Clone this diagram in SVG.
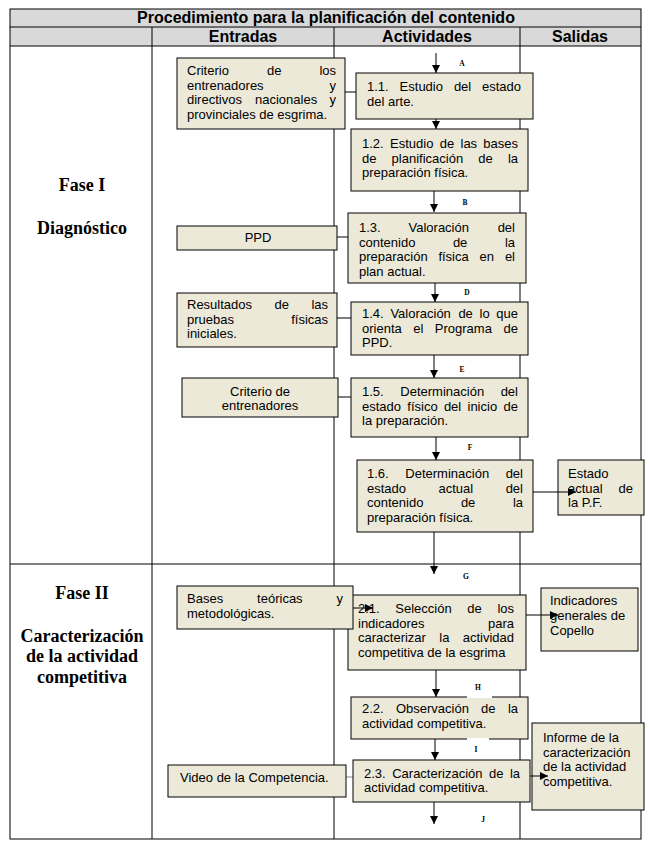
<svg xmlns="http://www.w3.org/2000/svg" width="650" height="852" viewBox="0 0 650 852">
<style>
.grid{stroke:#000;stroke-width:1;fill:none}
.hdr{fill:#d9d9d9}
.box{fill:#ece9d8;stroke:#000;stroke-width:1}
.t{font-family:"Liberation Sans",Arial,sans-serif;font-size:13px;fill:#000}
.h{font-family:"Liberation Sans",Arial,sans-serif;font-size:16px;font-weight:bold;fill:#000;text-anchor:middle}
.ph{font-family:"Liberation Serif","Times New Roman",serif;font-size:18px;font-weight:bold;fill:#000;text-anchor:middle}
.lbl{font-family:"Liberation Serif","Times New Roman",serif;font-size:7.5px;font-weight:bold;fill:#000;text-anchor:middle}
.c{stroke:#000;stroke-width:1;fill:none}
.ca{stroke:#000;stroke-width:1;fill:none;marker-end:url(#ah)}
</style>
<defs>
<marker id="ah" viewBox="0 0 10 10" refX="10" refY="5" markerWidth="8" markerHeight="8" markerUnits="userSpaceOnUse" orient="auto">
<path d="M0,0 L10,5 L0,10 z" fill="#000"/>
</marker>
</defs>
<rect x="0" y="0" width="650" height="852" fill="#fff"/>
<g id="table">
<rect class="hdr" x="10" y="9" width="631" height="37"/>
<rect class="grid" x="10" y="9" width="631" height="830"/>
<line class="grid" x1="10" y1="27" x2="641" y2="27"/>
<line class="grid" x1="10" y1="46" x2="641" y2="46"/>
<line class="grid" x1="10" y1="564" x2="641" y2="564"/>
<line class="grid" x1="152" y1="27" x2="152" y2="839"/>
<line class="grid" x1="334" y1="27" x2="334" y2="839"/>
<line class="grid" x1="520" y1="27" x2="520" y2="839"/>
<text class="h" x="326" y="23">Procedimiento para la planificación del contenido</text>
<text class="h" x="243" y="42">Entradas</text>
<text class="h" x="427" y="42">Actividades</text>
<text class="h" x="580" y="42">Salidas</text>
<text class="ph" x="82" y="191">Fase I</text>
<text class="ph" x="82" y="234">Diagnóstico</text>
<text class="ph" x="82" y="599">Fase II</text>
<text class="ph" x="82" y="642">Caracterización</text>
<text class="ph" x="82" y="662">de la actividad</text>
<text class="ph" x="82" y="683">competitiva</text>
</g>
<g id="connectors">
<line class="ca" x1="436" y1="53" x2="436" y2="73"/>
<line class="ca" x1="436" y1="119" x2="436" y2="129"/>
<line class="ca" x1="434" y1="191" x2="434" y2="212"/>
<line class="ca" x1="435" y1="283" x2="435" y2="302"/>
<line class="ca" x1="434" y1="355" x2="434" y2="378"/>
<line class="ca" x1="436" y1="437" x2="436" y2="460"/>
<line class="ca" x1="434" y1="532" x2="434" y2="574"/>
<line class="ca" x1="436" y1="670" x2="436" y2="697"/>
<line class="ca" x1="435" y1="739" x2="435" y2="760"/>
<line class="ca" x1="434" y1="802" x2="434" y2="824"/>
<line class="c" x1="345" y1="92" x2="356" y2="92"/>
<line class="c" x1="337" y1="237" x2="348" y2="237"/>
<line class="c" x1="337" y1="318" x2="351" y2="318"/>
<line class="c" x1="338" y1="397" x2="351" y2="397"/>
<line x1="346" y1="777" x2="353" y2="777" stroke="#888" stroke-width="1"/>
</g>
<g id="n_criterio_directivos">
<rect class="box" x="177" y="58" width="168" height="71"/>
<text class="t" y="75"><tspan x="187">Criterio </tspan><tspan x="267">de </tspan><tspan x="336" text-anchor="end">los</tspan></text>
<text class="t" y="89.7"><tspan x="187">entrenadores </tspan><tspan x="336" text-anchor="end">y</tspan></text>
<text class="t" y="104.4"><tspan x="187">directivos </tspan><tspan x="255">nacionales </tspan><tspan x="336" text-anchor="end">y</tspan></text>
<text class="t" x="187" y="119.1">provinciales de esgrima.</text>
</g>
<g id="n_1_1">
<rect class="box" x="356" y="73" width="177" height="46"/>
<text class="t" y="91"><tspan x="367">1.1. </tspan><tspan x="399.6">Estudio </tspan><tspan x="453.9">del </tspan><tspan x="521" text-anchor="end">estado</tspan></text>
<text class="t" x="367" y="105.5">del arte.</text>
</g>
<g id="n_1_2">
<rect class="box" x="351" y="129" width="177" height="62"/>
<text class="t" y="148"><tspan x="362">1.2. </tspan><tspan x="390">Estudio </tspan><tspan x="439.7">de </tspan><tspan x="460.5">las </tspan><tspan x="518" text-anchor="end">bases</tspan></text>
<text class="t" y="162.5"><tspan x="362">de </tspan><tspan x="391.6">planificación </tspan><tspan x="478.2">de </tspan><tspan x="518" text-anchor="end">la</tspan></text>
<text class="t" x="362" y="177">preparación física.</text>
</g>
<g id="n_ppd">
<rect class="box" x="177" y="226" width="160" height="24"/>
<text class="t" x="258" y="242" text-anchor="middle">PPD</text>
</g>
<g id="n_1_3">
<rect class="box" x="348" y="213" width="178" height="70"/>
<text class="t" y="232"><tspan x="359">1.3. </tspan><tspan x="408.5">Valoración </tspan><tspan x="515" text-anchor="end">del</tspan></text>
<text class="t" y="246.5"><tspan x="359">contenido </tspan><tspan x="452.9">de </tspan><tspan x="515" text-anchor="end">la</tspan></text>
<text class="t" y="261"><tspan x="359">preparación </tspan><tspan x="438.4">física </tspan><tspan x="479.5">en </tspan><tspan x="515" text-anchor="end">el</tspan></text>
<text class="t" x="359" y="275.5">plan actual.</text>
</g>
<g id="n_resultados">
<rect class="box" x="177" y="293" width="160" height="54"/>
<text class="t" y="309"><tspan x="187">Resultados </tspan><tspan x="274.5">de </tspan><tspan x="328" text-anchor="end">las</tspan></text>
<text class="t" y="323.5"><tspan x="187">pruebas </tspan><tspan x="328" text-anchor="end">físicas</tspan></text>
<text class="t" x="187" y="338">iniciales.</text>
</g>
<g id="n_1_4">
<rect class="box" x="351" y="302" width="177" height="53"/>
<text class="t" y="318"><tspan x="362">1.4. </tspan><tspan x="390.4">Valoración </tspan><tspan x="458.4">de </tspan><tspan x="479.6">lo </tspan><tspan x="518" text-anchor="end">que</tspan></text>
<text class="t" y="332.5"><tspan x="362">orienta </tspan><tspan x="413.2">el </tspan><tspan x="434.8">Programa </tspan><tspan x="518" text-anchor="end">de</tspan></text>
<text class="t" x="362" y="347">PPD.</text>
</g>
<g id="n_criterio_entrenadores">
<rect class="box" x="182" y="378" width="156" height="39"/>
<text class="t" x="260" y="396" text-anchor="middle">Criterio de</text>
<text class="t" x="260" y="410" text-anchor="middle">entrenadores</text>
</g>
<g id="n_1_5">
<rect class="box" x="351" y="378" width="177" height="59"/>
<text class="t" y="396"><tspan x="362">1.5. </tspan><tspan x="400.3">Determinación </tspan><tspan x="518" text-anchor="end">del</tspan></text>
<text class="t" y="410.5"><tspan x="362">estado </tspan><tspan x="407.3">físico </tspan><tspan x="443.9">del </tspan><tspan x="467.5">inicio </tspan><tspan x="518" text-anchor="end">de</tspan></text>
<text class="t" x="362" y="425">la preparación.</text>
</g>
<g id="n_1_6">
<rect class="box" x="357" y="460" width="176" height="72"/>
<text class="t" y="478"><tspan x="367">1.6. </tspan><tspan x="405.3">Determinación </tspan><tspan x="523" text-anchor="end">del</tspan></text>
<text class="t" y="492.5"><tspan x="367">estado </tspan><tspan x="438.5">actual </tspan><tspan x="523" text-anchor="end">del</tspan></text>
<text class="t" y="507"><tspan x="367">contenido </tspan><tspan x="460.9">de </tspan><tspan x="523" text-anchor="end">la</tspan></text>
<text class="t" x="367" y="521.5">preparación física.</text>
</g>
<g id="n_estado_actual">
<rect class="box" x="558" y="460" width="86" height="55"/>
<text class="t" x="568" y="478">Estado</text>
<text class="t" y="492.5"><tspan x="568">actual </tspan><tspan x="633" text-anchor="end">de</tspan></text>
<text class="t" x="568" y="507">la P.F.</text>
</g>
<g id="n_2_1">
<rect class="box" x="348" y="595" width="178" height="75"/>
<text class="t" y="613"><tspan x="358">2.1. </tspan><tspan x="395.3">Selección </tspan><tspan x="467.3">de </tspan><tspan x="514" text-anchor="end">los</tspan></text>
<text class="t" y="627.5"><tspan x="358">indicadores </tspan><tspan x="514" text-anchor="end">para</tspan></text>
<text class="t" y="642"><tspan x="358">caracterizar </tspan><tspan x="439.3">la </tspan><tspan x="514" text-anchor="end">actividad</tspan></text>
<text class="t" x="358" y="656.5">competitiva de la esgrima</text>
</g>
<g id="n_bases">
<rect class="box" x="177" y="586" width="176" height="43"/>
<text class="t" y="603"><tspan x="187">Bases </tspan><tspan x="257.1">teóricas </tspan><tspan x="343" text-anchor="end">y</tspan></text>
<text class="t" x="187" y="617.5">metodológicas.</text>
</g>
<g id="n_indicadores">
<rect class="box" x="541" y="588" width="97" height="63"/>
<text class="t" x="550" y="605">Indicadores</text>
<text class="t" x="550" y="620">generales de</text>
<text class="t" x="550" y="635">Copello</text>
</g>
<g id="n_2_2">
<rect class="box" x="351" y="697" width="177" height="42"/>
<text class="t" y="713"><tspan x="362">2.2. </tspan><tspan x="395.9">Observación </tspan><tspan x="481.1">de </tspan><tspan x="518" text-anchor="end">la</tspan></text>
<text class="t" x="362" y="728">actividad competitiva.</text>
</g>
<g id="n_2_3">
<rect class="box" x="353" y="760" width="177" height="42"/>
<text class="t" y="778"><tspan x="364">2.3. </tspan><tspan x="392.2">Caracterización </tspan><tspan x="489">de </tspan><tspan x="520" text-anchor="end">la</tspan></text>
<text class="t" x="364" y="792">actividad competitiva.</text>
</g>
<g id="n_video">
<rect class="box" x="168" y="765" width="178" height="32"/>
<text class="t" x="180" y="782">Video de la Competencia.</text>
</g>
<g id="n_informe">
<rect class="box" x="532" y="723" width="112" height="87"/>
<text class="t" x="543" y="742">Informe de la</text>
<text class="t" x="543" y="756.5">caracterización</text>
<text class="t" x="543" y="771">de la actividad</text>
<text class="t" x="543" y="785.5">competitiva.</text>
</g>
<g id="connectors_out">
<line class="ca" x1="533" y1="492" x2="576" y2="492"/>
<line class="ca" x1="526" y1="615" x2="558" y2="615"/>
<line class="ca" x1="353" y1="608" x2="373" y2="608"/>
<line class="ca" x1="530" y1="776" x2="548" y2="776"/>
</g>
<g id="labels">
<text class="lbl" x="462" y="66">A</text>
<text class="lbl" x="465" y="205">B</text>
<text class="lbl" x="467" y="295">D</text>
<text class="lbl" x="462" y="372">E</text>
<text class="lbl" x="470" y="450">F</text>
<text class="lbl" x="466" y="579">G</text>
<rect x="467" y="679" width="25" height="19" fill="#fff"/>
<text class="lbl" x="478" y="690">H</text>
<rect x="467" y="738" width="22" height="20" fill="#fff"/>
<text class="lbl" x="476" y="752">I</text>
<text class="lbl" x="483" y="822">J</text>
</g>
</svg>
